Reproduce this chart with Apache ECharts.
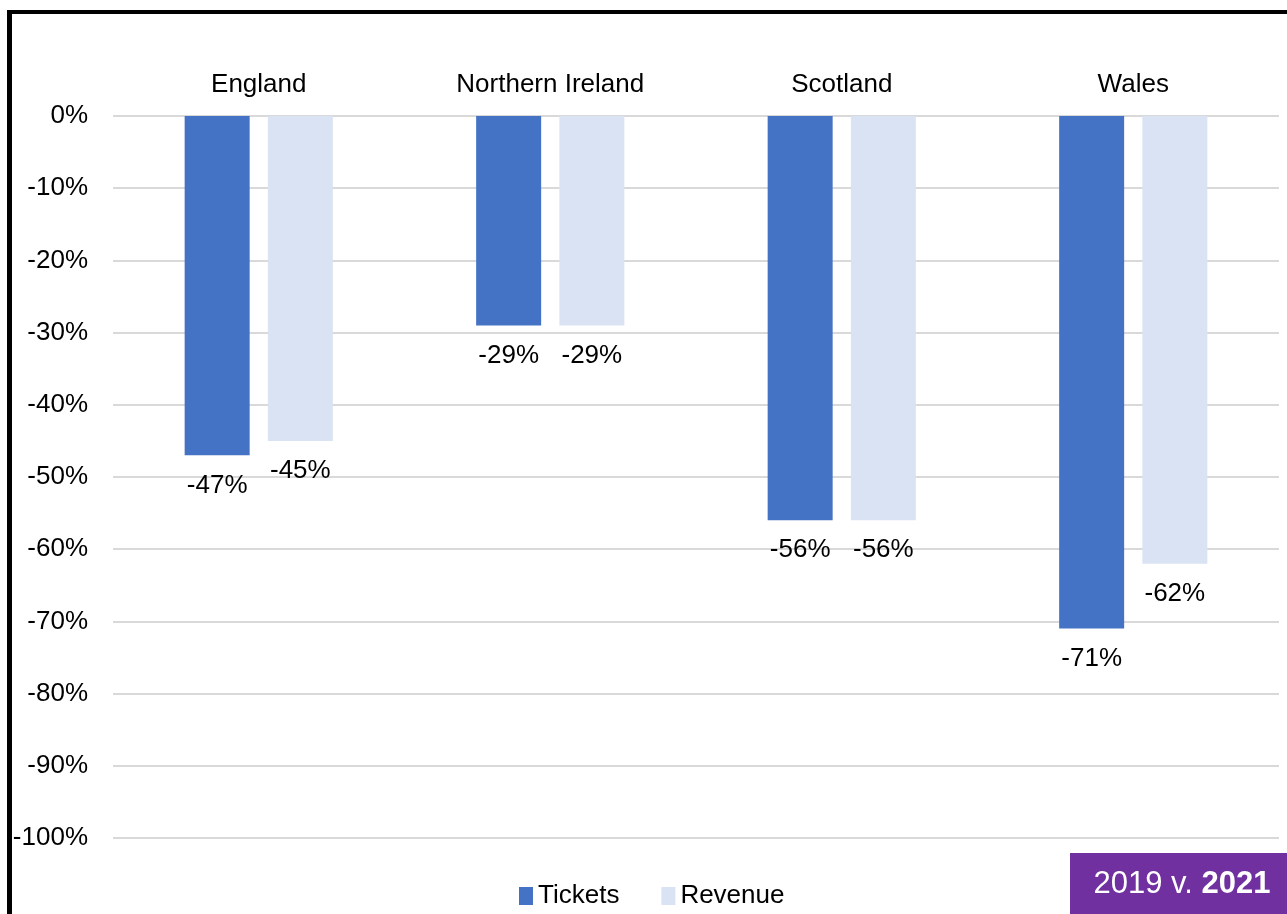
<!DOCTYPE html>
<html>
<head>
<meta charset="utf-8">
<script src="https://cdn.jsdelivr.net/npm/echarts@6/dist/echarts.min.js"></script>
<style>
  html, body { margin: 0; padding: 0; background: #fff; }
  #chart { width: 1287px; height: 914px; }
</style>
</head>
<body>
<div id="chart"></div>
<script>
// Change in tickets and revenue, 2019 v. 2021, by nation
const nations = ['England', 'Northern Ireland', 'Scotland', 'Wales'];
const tickets = [-47, -29, -56, -71];
const revenue = [-45, -29, -56, -62];
const seriesNames = ['Tickets', 'Revenue'];

const FONT = '"Liberation Sans", Arial, sans-serif';

const chart = echarts.init(document.getElementById('chart'), null, { renderer: 'canvas' });

const barLabel = {
  show: true,
  position: 'bottom',
  distance: 17,
  color: '#000',
  fontFamily: FONT,
  fontSize: 26,
  formatter: p => p.value + '%'
};

chart.setOption({
  animation: false,
  backgroundColor: '#fff',
  textStyle: { fontFamily: FONT },
  grid: { left: 113, right: 8, top: 116, bottom: 76, containLabel: false },
  legend: {
    data: seriesNames,
    bottom: 0,
    left: 514,
    icon: 'rect',
    itemWidth: 14,
    itemHeight: 18,
    itemGap: 42,
    textStyle: { fontFamily: FONT, fontSize: 26, color: '#000' }
  },
  xAxis: {
    type: 'category',
    position: 'top',
    data: nations,
    axisLine: { show: false },
    axisTick: { show: false },
    axisLabel: { margin: 18, color: '#000', fontFamily: FONT, fontSize: 26 }
  },
  yAxis: {
    type: 'value',
    min: -100,
    max: 0,
    interval: 10,
    axisLine: { show: false },
    axisTick: { show: false },
    splitLine: { lineStyle: { color: '#d9d9d9', width: 2 } },
    axisLabel: {
      margin: 25,
      color: '#000',
      fontFamily: FONT,
      fontSize: 26,
      formatter: '{value}%'
    }
  },
  series: [
    {
      name: seriesNames[0],
      type: 'bar',
      data: tickets,
      barWidth: 65,
      barGap: '28%',
      itemStyle: { color: '#4472c4' },
      label: barLabel
    },
    {
      name: seriesNames[1],
      type: 'bar',
      data: revenue,
      barWidth: 65,
      itemStyle: { color: '#dae3f3' },
      label: barLabel
    }
  ],
  graphic: [
    // frame on the left and top edges
    { type: 'rect', left: 7, top: 10, shape: { width: 5, height: 904 }, style: { fill: '#000' } },
    { type: 'rect', left: 7, top: 10, shape: { width: 1280, height: 4 }, style: { fill: '#000' } },
    // period badge
    {
      type: 'group',
      left: 1070,
      top: 853,
      children: [
        { type: 'rect', shape: { x: 0, y: 0, width: 217, height: 61 }, style: { fill: '#7030a0' } },
        {
          type: 'text',
          x: 112,
          y: 31,
          style: {
            text: '{n|2019 v. }{b|2021}',
            align: 'center',
            verticalAlign: 'middle',
            rich: {
              n: { fill: '#fff', fontFamily: FONT, fontSize: 31 },
              b: { fill: '#fff', fontFamily: FONT, fontSize: 31, fontWeight: 'bold' }
            }
          }
        }
      ]
    }
  ]
});
</script>
</body>
</html>
